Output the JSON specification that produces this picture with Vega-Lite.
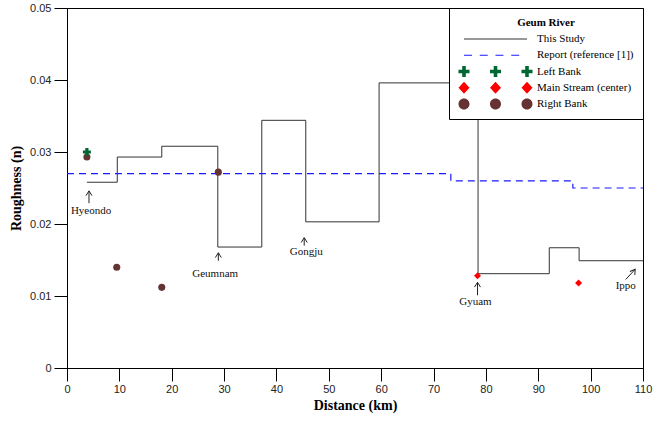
{
  "$schema": "https://vega.github.io/schema/vega-lite/v6.json",
  "width": 576,
  "height": 360,
  "autosize": "none",
  "padding": {"left": 67, "top": 8, "right": 12, "bottom": 53},
  "background": "white",
  "config": {
    "view": {"stroke": "black", "strokeWidth": 1},
    "axis": {
      "grid": false,
      "domainColor": "black",
      "tickColor": "black",
      "labelFont": "Liberation Sans",
      "labelFontSize": 11,
      "labelColor": "#222222",
      "titleFont": "Liberation Serif",
      "titleFontSize": 14,
      "titleFontWeight": "bold",
      "titleColor": "black",
      "labelOverlap": false,
      "labelFlush": false
    }
  },
  "datasets": {
    "steps": [
      {"series": "This Study", "km": 3.8, "n": 0.0258},
      {"series": "This Study", "km": 9.6, "n": 0.0293},
      {"series": "This Study", "km": 18.1, "n": 0.0308},
      {"series": "This Study", "km": 28.8, "n": 0.0168},
      {"series": "This Study", "km": 37.2, "n": 0.0344},
      {"series": "This Study", "km": 45.6, "n": 0.0203},
      {"series": "This Study", "km": 59.6, "n": 0.0396},
      {"series": "This Study", "km": 78.5, "n": 0.0131},
      {"series": "This Study", "km": 92.1, "n": 0.0167},
      {"series": "This Study", "km": 97.8, "n": 0.0149},
      {"series": "This Study", "km": 110, "n": 0.0149},
      {"series": "Report (reference [1])", "km": 0, "n": 0.027},
      {"series": "Report (reference [1])", "km": 73.3, "n": 0.026},
      {"series": "Report (reference [1])", "km": 96.6, "n": 0.025},
      {"series": "Report (reference [1])", "km": 110, "n": 0.025}
    ],
    "points": [
      {"series": "Right Bank", "km": 3.8, "n": 0.0293},
      {"series": "Right Bank", "km": 9.5, "n": 0.014},
      {"series": "Right Bank", "km": 18.1, "n": 0.0112},
      {"series": "Right Bank", "km": 28.9, "n": 0.0272},
      {"series": "Left Bank", "km": 3.8, "n": 0.03},
      {"series": "Main Stream (center)", "km": 78.4, "n": 0.0128},
      {"series": "Main Stream (center)", "km": 97.7, "n": 0.0118}
    ],
    "notes": [
      {"label": "Hyeondo", "tx": 4.6, "ty": 0.0214, "ax": 4.2, "ay": 0.0229, "hx": 4.2, "hy": 0.0246},
      {"label": "Geumnam", "tx": 28.3, "ty": 0.0127, "ax": 28.9, "ay": 0.0149, "hx": 28.9, "hy": 0.016},
      {"label": "Gongju", "tx": 45.7, "ty": 0.0157, "ax": 45.3, "ay": 0.017, "hx": 45.3, "hy": 0.0181},
      {"label": "Gyuam", "tx": 78.0, "ty": 0.0087, "ax": 78.4, "ay": 0.0101, "hx": 78.4, "hy": 0.0119},
      {"label": "Ippo", "tx": 106.7, "ty": 0.011, "ax": 106.7, "ay": 0.0123, "hx": 108.5, "hy": 0.0137}
    ]
  },
  "layer": [
    {
      "data": {"name": "steps"},
      "transform": [{"filter": "datum.series == 'This Study'"}],
      "mark": {"type": "line", "interpolate": "step-after", "strokeWidth": 1, "color": "#333333"},
      "encoding": {
        "x": {
          "field": "km", "type": "quantitative",
          "scale": {"domain": [0, 110], "nice": false, "zero": false},
          "title": "Distance (km)",
          "axis": {
            "values": [0, 5, 10, 15, 20, 25, 30, 35, 40, 45, 50, 55, 60, 65, 70, 75, 80, 85, 90, 95, 100, 105, 110],
            "labelExpr": "datum.value % 10 == 0 ? datum.label : ''",
            "tickSize": 13,
            "labelPadding": 2,
            "titlePadding": 4,
            "encode": {"ticks": {"update": {"y2": {"signal": "datum.value % 10 == 0 ? 13 : 7"}}}}
          }
        },
        "y": {
          "field": "n", "type": "quantitative",
          "scale": {"domain": [0, 0.05], "nice": false},
          "title": "Roughness (n)",
          "axis": {
            "values": [0, 0.005, 0.01, 0.015, 0.02, 0.025, 0.03, 0.035, 0.04, 0.045, 0.05],
            "format": ".2~f",
            "labelExpr": "abs(datum.value*100 - round(datum.value*100)) < 0.001 ? datum.label : ''",
            "tickSize": 13,
            "labelPadding": 3,
            "titlePadding": 6,
            "encode": {"ticks": {"update": {"x2": {"signal": "abs(datum.value*100 - round(datum.value*100)) < 0.001 ? -13 : -7"}}}}
          }
        }
      }
    },
    {
      "data": {"name": "steps"},
      "transform": [{"filter": "datum.series == 'Report (reference [1])'"}],
      "mark": {"type": "line", "interpolate": "step-after", "strokeWidth": 1.2, "strokeDash": [7, 5], "color": "#1a1aff"},
      "encoding": {
        "x": {"field": "km", "type": "quantitative", "title": "Distance (km)"},
        "y": {"field": "n", "type": "quantitative", "title": "Roughness (n)"}
      }
    },
    {
      "data": {"name": "points"},
      "transform": [{"filter": "false"}],
      "mark": {"type": "point", "filled": true, "opacity": 1, "size": 5625},
      "encoding": {
        "x": {"field": "km", "type": "quantitative", "title": "Distance (km)"},
        "y": {"field": "n", "type": "quantitative", "title": "Roughness (n)"},
        "color": {
          "field": "series", "type": "nominal",
          "scale": {
            "domain": ["This Study", "Report (reference [1])", "Left Bank", "Main Stream (center)", "Right Bank"],
            "range": ["#333333", "#1a1aff", "#006633", "#ff0000", "#663333"]
          },
          "legend": {
            "title": "Geum River",
            "orient": "top-right",
            "offset": 0,
            "padding": 9,
            "fillColor": "white",
            "strokeColor": "black",
            "titleFont": "Liberation Serif",
            "titleFontSize": 11,
            "titleFontWeight": "bold",
            "titleColor": "black",
            "titleAnchor": "middle",
            "titlePadding": 5,
            "labelFont": "Liberation Serif",
            "labelFontSize": 11,
            "labelColor": "black",
            "labelOffset": 4,
            "clipHeight": 12,
            "rowPadding": 4.25,
            "symbolSize": 5625,
            "symbolStrokeWidth": 0,
            "symbolOpacity": 1,
            "symbolOffset": 0
          }
        },
        "shape": {
          "field": "series", "type": "nominal",
          "scale": {
            "domain": ["This Study", "Report (reference [1])", "Left Bank", "Main Stream (center)", "Right Bank"],
            "range": [
              "M-0.84,-0.016H0.84V0.016H-0.84Z",
              "M-0.84,-0.016H-0.627V0.016H-0.84Z M-0.42,-0.016H-0.207V0.016H-0.42Z M0,-0.016H0.213V0.016H0Z M0.42,-0.016H0.633V0.016H0.42Z",
              "M-0.888,-0.147H-0.792V-0.048H-0.693V0.048H-0.792V0.147H-0.888V0.048H-0.987V-0.048H-0.888Z M-0.048,-0.147H0.048V-0.048H0.147V0.048H0.048V0.147H-0.048V0.048H-0.147V-0.048H-0.048Z M0.792,-0.147H0.888V-0.048H0.987V0.048H0.888V0.147H0.792V0.048H0.693V-0.048H0.792Z",
              "M-0.84,-0.16L-0.693,0L-0.84,0.16L-0.987,0Z M0,-0.16L0.147,0L0,0.16L-0.147,0Z M0.84,-0.16L0.987,0L0.84,0.16L0.693,0Z",
              "M-0.987,0A0.147,0.147,0,1,0,-0.693,0A0.147,0.147,0,1,0,-0.987,0Z M-0.147,0A0.147,0.147,0,1,0,0.147,0A0.147,0.147,0,1,0,-0.147,0Z M0.693,0A0.147,0.147,0,1,0,0.987,0A0.147,0.147,0,1,0,0.693,0Z"
            ]
          }
        }
      }
    },
    {
      "data": {"name": "points"},
      "transform": [{"filter": "datum.series == 'Right Bank'"}],
      "mark": {"type": "point", "shape": "circle", "filled": true, "opacity": 1, "size": 50, "color": "#663333"},
      "encoding": {
        "x": {"field": "km", "type": "quantitative", "title": "Distance (km)"},
        "y": {"field": "n", "type": "quantitative", "title": "Roughness (n)"}
      }
    },
    {
      "data": {"name": "points"},
      "transform": [{"filter": "datum.series == 'Left Bank'"}],
      "mark": {"type": "point", "shape": "cross", "filled": true, "opacity": 1, "size": 64, "color": "#006633"},
      "encoding": {
        "x": {"field": "km", "type": "quantitative", "title": "Distance (km)"},
        "y": {"field": "n", "type": "quantitative", "title": "Roughness (n)"}
      }
    },
    {
      "data": {"name": "points"},
      "transform": [{"filter": "datum.series == 'Main Stream (center)'"}],
      "mark": {"type": "point", "shape": "diamond", "filled": true, "opacity": 1, "size": 49, "color": "#ff0000"},
      "encoding": {
        "x": {"field": "km", "type": "quantitative", "title": "Distance (km)"},
        "y": {"field": "n", "type": "quantitative", "title": "Roughness (n)"}
      }
    },
    {
      "data": {"name": "notes"},
      "mark": {"type": "rule", "color": "#222222", "strokeWidth": 1},
      "encoding": {
        "x": {"field": "ax", "type": "quantitative", "title": "Distance (km)"},
        "y": {"field": "ay", "type": "quantitative", "title": "Roughness (n)"},
        "x2": {"field": "hx"},
        "y2": {"field": "hy"}
      }
    },
    {
      "data": {"name": "notes"},
      "transform": [{"filter": "datum.label != 'Ippo'"}],
      "mark": {"type": "point", "shape": "M-1,1.6L0,0L1,1.6", "size": 36, "filled": false, "color": "#222222", "strokeWidth": 1, "opacity": 1},
      "encoding": {
        "x": {"field": "hx", "type": "quantitative", "title": "Distance (km)"},
        "y": {"field": "hy", "type": "quantitative", "title": "Roughness (n)"}
      }
    },
    {
      "data": {"name": "notes"},
      "transform": [{"filter": "datum.label == 'Ippo'"}],
      "mark": {"type": "point", "shape": "M-1,1.6L0,0L1,1.6", "size": 36, "filled": false, "color": "#222222", "strokeWidth": 1, "opacity": 1, "angle": 35},
      "encoding": {
        "x": {"field": "hx", "type": "quantitative", "title": "Distance (km)"},
        "y": {"field": "hy", "type": "quantitative", "title": "Roughness (n)"}
      }
    },
    {
      "data": {"name": "notes"},
      "mark": {"type": "text", "font": "Liberation Serif", "fontSize": 11, "color": "#111111", "align": "center", "baseline": "alphabetic"},
      "encoding": {
        "x": {"field": "tx", "type": "quantitative", "title": "Distance (km)"},
        "y": {"field": "ty", "type": "quantitative", "title": "Roughness (n)"},
        "text": {"field": "label"}
      }
    }
  ]
}
